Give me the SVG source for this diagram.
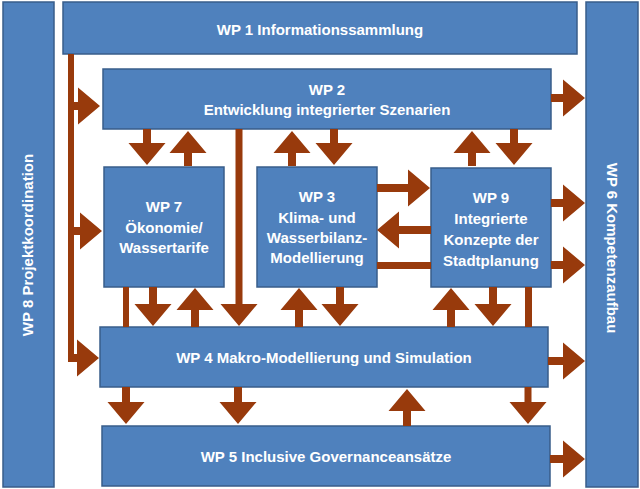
<svg xmlns="http://www.w3.org/2000/svg" width="640" height="489" viewBox="0 0 640 489">
<style>
.box{fill:#4F81BD;stroke:#385D8A;stroke-width:1.5}
.t{fill:#fff;font-family:"Liberation Sans",Arial,sans-serif;font-weight:bold;font-size:15px;text-anchor:middle}
.a{fill:#983A0C}
</style>
<rect width="640" height="489" fill="#fff"/>
<g id="wp8"><rect class="box" x="3" y="2" width="51" height="485"/><text class="t" transform="translate(33 245) rotate(-90)">WP 8 Projektkoordination</text></g>
<g id="wp6"><rect class="box" x="586" y="2" width="52" height="485"/><text class="t" transform="translate(607 248) rotate(90)">WP 6 Kompetenzaufbau</text></g>
<g id="wp1"><rect class="box" x="63" y="2" width="514" height="52"/><text class="t" x="320" y="35">WP 1 Informationssammlung</text></g>
<g id="wp2"><rect class="box" x="103" y="69" width="448" height="60"/><text class="t" x="327" y="95">WP 2</text><text class="t" x="327" y="115">Entwicklung integrierter Szenarien</text></g>
<g id="wp7"><rect class="box" x="104" y="167" width="120" height="120"/><text class="t" x="164" y="212">WP 7</text><text class="t" x="164" y="233">Ökonomie/</text><text class="t" x="164" y="253">Wassertarife</text></g>
<g id="wp3"><rect class="box" x="257" y="167" width="120" height="120"/><text class="t" x="317" y="202">WP 3</text><text class="t" x="317" y="223">Klima- und</text><text class="t" x="317" y="243">Wasserbilanz-</text><text class="t" x="317" y="263">Modellierung</text></g>
<g id="wp9"><rect class="box" x="431" y="168" width="120" height="119"/><text class="t" x="491" y="203">WP 9</text><text class="t" x="491" y="224">Integrierte</text><text class="t" x="491" y="245">Konzepte der</text><text class="t" x="491" y="266">Stadtplanung</text></g>
<g id="wp4"><rect class="box" x="100" y="327" width="448" height="60"/><text class="t" x="324" y="363">WP 4 Makro-Modellierung und Simulation</text></g>
<g id="wp5"><rect class="box" x="102" y="426" width="448" height="60"/><text class="t" x="326" y="462">WP 5 Inclusive Governanceansätze</text></g>
<g id="connectors" class="a">
<!-- lines -->
<rect x="68" y="54" width="6" height="308"/>
<rect x="68" y="354" width="12" height="8"/>
<rect x="377" y="262" width="54" height="7"/>
<rect x="123" y="287" width="6" height="40"/>
<rect x="525" y="287" width="7" height="40"/>
<!-- down arrows -->
<polygon points="143,129 151,129 151,143 165.5,143 147,165 128.5,143 143,143"/>
<polygon points="330,129 338,129 338,143 352.5,143 334,165 315.5,143 330,143"/>
<polygon points="510,129 518,129 518,143 532.5,143 514,165 495.5,143 510,143"/>
<polygon points="149,287 157,287 157,304 171.5,304 153,326 134.5,304 149,304"/>
<polygon points="336,287 344,287 344,304 358.5,304 340,326 321.5,304 336,304"/>
<polygon points="489,287 497,287 497,304 511.5,304 493,326 474.5,304 489,304"/>
<polygon points="235.5,129 242.5,129 242.5,304 257.5,304 239,326 220.5,304 235.5,304"/>
<polygon points="122,387 130,387 130,402 144.5,402 126,424 107.5,402 122,402"/>
<polygon points="234,387 242,387 242,402 256.5,402 238,424 219.5,402 234,402"/>
<polygon points="524.5,387 531.5,387 531.5,402 546.5,402 528,424 509.5,402 524.5,402"/>
<!-- up arrows -->
<polygon points="184,166 192,166 192,153 206.5,153 188,131 169.5,153 184,153"/>
<polygon points="288,166 296,166 296,153 310.5,153 292,131 273.5,153 288,153"/>
<polygon points="468,166 476,166 476,153 490.5,153 472,131 453.5,153 468,153"/>
<polygon points="191,327 199,327 199,310 213.5,310 195,288 176.5,310 191,310"/>
<polygon points="295,327 303,327 303,310 317.5,310 299,288 280.5,310 295,310"/>
<polygon points="447,327 455,327 455,310 469.5,310 451,288 432.5,310 447,310"/>
<polygon points="403,426 411,426 411,411 425.5,411 407,389 388.5,411 403,411"/>
<!-- right arrows -->
<polygon points="74,102 78,102 78,87.5 100,106 78,124.5 78,110 74,110"/>
<polygon points="74,227 80,227 80,212.5 102,231 80,249.5 80,235 74,235"/>
<polygon points="74,354 77,354 77,339.5 99,358 77,376.5 77,362 74,362"/>
<polygon points="551,94 563,94 563,79.5 585,98 563,116.5 563,102 551,102"/>
<polygon points="551,199 563,199 563,184.5 585,203 563,221.5 563,207 551,207"/>
<polygon points="551,261 563,261 563,246.5 585,265 563,283.5 563,269 551,269"/>
<polygon points="548,357 563,357 563,342.5 585,361 563,379.5 563,365 548,365"/>
<polygon points="550,455 563,455 563,440.5 585,459 563,477.5 563,463 550,463"/>
<polygon points="377,184 408,184 408,169.5 430,188 408,206.5 408,192 377,192"/>
<!-- left arrow -->
<polygon points="431,226 399,226 399,211.5 377,230 399,248.5 399,234 431,234"/>
</g>
</svg>
